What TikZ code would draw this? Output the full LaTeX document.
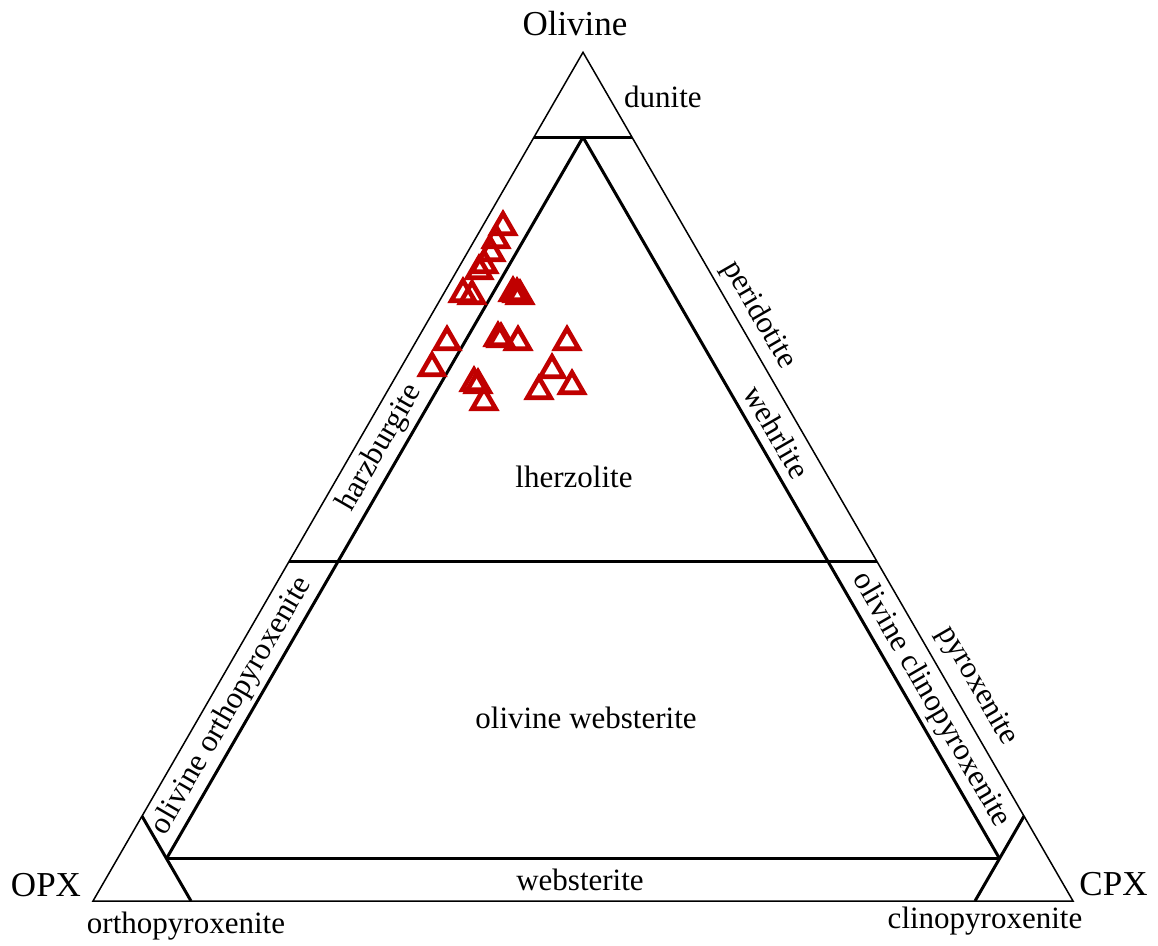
\documentclass[tikz,border=0pt]{standalone}
\usepackage{fontspec}
\setmainfont{Liberation Serif}
\usetikzlibrary{shapes.geometric}
\definecolor{mkred}{HTML}{C00000}
\begin{document}
\begin{tikzpicture}[x=1pt,y=-1pt,
  edge/.style={line width=1.5pt},
  bound/.style={line width=3pt},
  big/.style={font=\fontsize{35}{40}\selectfont, inner sep=0pt},
  lbl/.style={font=\fontsize{31}{36}\selectfont, inner sep=0pt},
  mk/.style={regular polygon, regular polygon sides=3, draw=mkred, line width=4.6pt, minimum size=27pt, inner sep=0pt}]
\useasboundingbox (0,0) rectangle (1158,945);
% corners
\coordinate (OL) at (583,52.3);
\coordinate (OP) at (93,901);
\coordinate (CP) at (1073,901);
% boundary points
\coordinate (a1) at (barycentric cs:OL=0.9,OP=0.1,CP=0);
\coordinate (a2) at (barycentric cs:OL=0.9,OP=0,CP=0.1);
\coordinate (b1) at (barycentric cs:OL=0.4,OP=0.6,CP=0);
\coordinate (b2) at (barycentric cs:OL=0.4,OP=0,CP=0.6);
\coordinate (c0) at (barycentric cs:OL=0.9,OP=0.05,CP=0.05);
\coordinate (c1) at (barycentric cs:OL=0.05,OP=0.9,CP=0.05);
\coordinate (c2) at (barycentric cs:OL=0.05,OP=0.05,CP=0.9);
\coordinate (e1) at (barycentric cs:OL=0.1,OP=0.9,CP=0);
\coordinate (e2) at (barycentric cs:OL=0,OP=0.9,CP=0.1);
\coordinate (f1) at (barycentric cs:OL=0.1,OP=0,CP=0.9);
\coordinate (f2) at (barycentric cs:OL=0,OP=0.1,CP=0.9);
% outer triangle
\draw[edge] (OL) -- (OP) -- (CP) -- cycle;
% field boundaries
\draw[bound] (a1) -- (a2);
\draw[bound] (b1) -- (b2);
\draw[bound] (c0) -- (c1);
\draw[bound] (c0) -- (c2);
\draw[bound] (c1) -- (c2);
\draw[bound] (e1) -- (e2);
\draw[bound] (f1) -- (f2);
% labels
\node[big, anchor=base] (tol) at (575,35) {Olivine};
\node[big, anchor=base] (topx) at (46,896) {OPX};
\node[big, anchor=base] (tcpx) at (1113.5,895) {CPX};
\node[lbl, anchor=base west] (tdun) at (624,107) {dunite};
\node[lbl, anchor=base] (torth) at (186,933) {orthopyroxenite};
\node[lbl, anchor=base] (tclin) at (985,928) {clinopyroxenite};
\node[lbl, anchor=base] (tweb) at (580,890) {websterite};
\node[lbl, anchor=base] (tlhz) at (574,487) {lherzolite};
\node[lbl, anchor=base] (toweb) at (586,728) {olivine websterite};
\node[lbl, rotate=60] (thz) at (380,448) {harzburgite};
\node[lbl, rotate=-60] (tweh) at (777,432) {wehrlite};
\node[lbl, rotate=-60] (tper) at (759,315) {peridotite};
\node[lbl, rotate=60] (toop) at (232,706) {olivine orthopyroxenite};
\node[lbl, rotate=-60] (tocp) at (931,700) {olivine clinopyroxenite};
\node[lbl, rotate=-60] (tpyx) at (977,686) {pyroxenite};
% samples
\node[mk] (m1) at (503,227) {};
\node[mk] (m2) at (496,240) {};
\node[mk] (m3) at (491,253) {};
\node[mk] (m4) at (484,265) {};
\node[mk] (m5) at (479,271) {};
\node[mk] (m6) at (463,294) {};
\node[mk] (m7) at (472,296) {};
\node[mk] (m8) at (513,293) {};
\node[mk] (m9) at (517,294) {};
\node[mk] (m10) at (520,296) {};
\node[mk] (m11) at (447,342) {};
\node[mk] (m12) at (432,368) {};
\node[mk] (m13) at (474,383) {};
\node[mk] (m14) at (478,385) {};
\node[mk] (m15) at (484,402) {};
\node[mk] (m16) at (498,338) {};
\node[mk] (m17) at (501,339) {};
\node[mk] (m18) at (518,342) {};
\node[mk] (m19) at (567,342) {};
\node[mk] (m20) at (552,370) {};
\node[mk] (m21) at (539,391) {};
\node[mk] (m22) at (572,386) {};
\end{tikzpicture}
\end{document}
